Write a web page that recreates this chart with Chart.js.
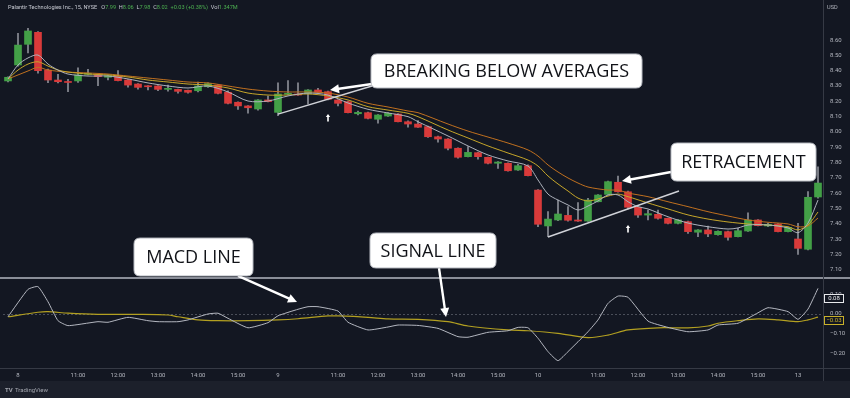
<!DOCTYPE html>
<html><head><meta charset="utf-8">
<script src="https://cdn.jsdelivr.net/npm/chart.js@4.4.0/dist/chart.umd.min.js"></script>
<style>html,body{margin:0;padding:0;background:#131722;overflow:hidden}#wrap{position:relative;width:850px;height:398px}canvas{display:block}</style>
</head><body><div id="wrap"><canvas id="c" width="850" height="398"></canvas></div>
<script>
// ---- candle data (15-min bars) ----
const opens = [
 8.333,8.437,8.572,8.650,8.404,8.339,8.326,8.333,8.376,8.372,
 8.357,8.365,8.339,8.313,8.300,8.300,8.278,8.278,8.272,8.269,
 8.295,8.306,8.259,8.194,8.170,8.150,8.209,8.128,8.246,8.248,
 8.252,8.274,8.263,8.209,8.198,8.119,8.126,8.083,8.104,8.117,
 8.067,8.052,8.035,7.969,7.954,7.894,7.839,7.865,7.835,7.796,
 7.796,7.752,7.780,7.621,7.387,7.426,7.456,7.426,7.419,7.545,
 7.593,7.672,7.610,7.509,7.458,7.463,7.437,7.404,7.415,7.346,
 7.361,7.330,7.350,7.317,7.354,7.426,7.387,7.400,7.350,7.302,
 7.235,7.576];
const highs = [
 8.359,8.644,8.676,8.655,8.411,8.376,8.344,8.419,8.409,8.375,
 8.372,8.400,8.342,8.316,8.303,8.303,8.306,8.280,8.274,8.326,
 8.320,8.310,8.269,8.196,8.173,8.212,8.235,8.321,8.335,8.321,
 8.277,8.285,8.267,8.212,8.202,8.137,8.130,8.114,8.126,8.120,
 8.072,8.074,8.039,7.974,7.957,7.896,7.904,7.869,7.837,7.807,
 7.798,7.789,7.785,7.625,7.480,7.556,7.513,7.539,7.567,7.592,
 7.680,7.713,7.615,7.511,7.491,7.491,7.439,7.429,7.419,7.364,
 7.387,7.355,7.354,7.372,7.473,7.429,7.406,7.403,7.380,7.404,
 7.611,7.772];
const lows = [
 8.326,8.430,8.515,8.383,8.321,8.320,8.263,8.324,8.372,8.302,
 8.339,8.333,8.293,8.280,8.274,8.269,8.267,8.254,8.254,8.261,
 8.290,8.248,8.183,8.148,8.122,8.143,8.196,8.106,8.244,8.238,
 8.183,8.258,8.209,8.170,8.124,8.111,8.085,8.057,8.101,8.065,
 8.031,8.029,7.965,7.933,7.883,7.830,7.837,7.822,7.791,7.763,
 7.745,7.749,7.713,7.382,7.317,7.422,7.419,7.416,7.416,7.543,
 7.589,7.608,7.498,7.443,7.426,7.432,7.400,7.400,7.339,7.317,
 7.317,7.327,7.295,7.315,7.351,7.387,7.383,7.348,7.348,7.202,
 7.230,7.569];
const closes = [
 8.357,8.567,8.659,8.400,8.339,8.328,8.323,8.372,8.381,8.361,
 8.367,8.335,8.306,8.291,8.295,8.278,8.285,8.265,8.259,8.300,
 8.316,8.252,8.187,8.170,8.158,8.209,8.198,8.248,8.252,8.241,
 8.274,8.259,8.213,8.187,8.126,8.128,8.089,8.111,8.122,8.067,
 8.052,8.031,7.969,7.954,7.894,7.835,7.867,7.839,7.796,7.804,
 7.747,7.780,7.715,7.398,7.432,7.465,7.424,7.419,7.556,7.589,
 7.676,7.610,7.509,7.458,7.467,7.437,7.404,7.426,7.350,7.361,
 7.335,7.352,7.313,7.356,7.426,7.389,7.398,7.350,7.378,7.241,
 7.574,7.667];

// ---- moving averages (bar index, value) ----
const fastIdx = [0,1,2,3,4,5,6,8,10,12,14,16,18,20,22,24,26,28,30,32,34,36,38,40,41,44,46,48,50,52,53,54,55,56,57,58,59,60,61,62,63,64,66,68,70,72,73,74,76,78,79,80,81];
const fastVal = [8.346,8.437,8.483,8.502,8.443,8.404,8.378,8.365,8.365,8.346,8.320,8.300,8.287,8.300,8.261,8.202,8.202,8.235,8.254,8.241,8.189,8.148,8.124,8.100,8.067,7.974,7.909,7.850,7.811,7.778,7.687,7.595,7.556,7.524,7.491,7.517,7.550,7.589,7.589,7.545,7.513,7.498,7.447,7.406,7.382,7.367,7.374,7.393,7.393,7.374,7.343,7.406,7.556];
const midIdx = [0,1,2,3,4,5,6,8,10,12,14,16,18,20,22,24,26,28,30,32,34,36,38,40,41,44,46,48,50,52,53,54,55,56,57,58,59,60,61,62,64,66,68,70,72,74,76,78,79,80,81];
const midVal = [8.346,8.404,8.443,8.458,8.430,8.404,8.391,8.378,8.372,8.359,8.339,8.326,8.313,8.306,8.287,8.254,8.241,8.241,8.248,8.235,8.209,8.165,8.143,8.122,8.100,8.013,7.961,7.909,7.863,7.817,7.778,7.713,7.661,7.615,7.569,7.550,7.563,7.582,7.595,7.578,7.537,7.498,7.459,7.432,7.413,7.400,7.393,7.382,7.361,7.393,7.478];
const slowIdx = [0,1,2,3,4,6,8,10,12,14,16,18,20,22,24,26,28,30,32,34,36,38,40,41,44,46,48,50,52,53,54,55,56,57,58,60,61,62,64,66,68,70,72,74,76,78,79,80,81];
const slowVal = [8.346,8.372,8.398,8.422,8.404,8.391,8.385,8.378,8.365,8.352,8.339,8.326,8.320,8.300,8.280,8.267,8.261,8.261,8.254,8.228,8.187,8.163,8.137,8.126,8.052,8.006,7.967,7.928,7.883,7.843,7.785,7.739,7.700,7.667,7.641,7.621,7.621,7.602,7.578,7.545,7.513,7.480,7.452,7.426,7.411,7.400,7.382,7.387,7.439];

// ---- MACD panel ----
const macdIdx = [0,2,3,4,5,6,8,9,10,12,14,15,17,18,20,21,22,24,26,27,29,30,31,33,34,36,38,39,41,43,45,46,48,50,51,52,53,54,55,56,57,58,59,60,61,62,64,66,68,70,71,73,75,76,78,79,80,81];
const macdVal = [-0.014,0.125,0.139,0.062,-0.034,-0.059,-0.046,-0.039,-0.042,-0.017,-0.034,-0.039,-0.039,-0.030,0.000,0.004,-0.022,-0.070,-0.044,-0.009,0.024,0.037,0.037,0.015,-0.042,-0.081,-0.066,-0.056,-0.058,-0.073,-0.115,-0.118,-0.093,-0.085,-0.068,-0.070,-0.123,-0.191,-0.237,-0.191,-0.141,-0.090,-0.030,0.054,0.091,0.085,-0.036,-0.068,-0.090,-0.081,-0.056,-0.047,0.006,0.032,0.012,-0.027,0.025,0.130];
const signalIdx = [0,3,4,6,9,13,16,17,19,21,24,27,29,32,33,36,38,41,44,46,50,52,55,58,60,62,65,68,70,71,73,75,77,79,80,81];
const signalVal = [-0.014,0.009,0.012,0.004,-0.002,-0.002,-0.005,-0.014,-0.030,-0.034,-0.034,-0.030,-0.024,-0.010,-0.010,-0.017,-0.025,-0.027,-0.039,-0.061,-0.081,-0.085,-0.098,-0.120,-0.107,-0.081,-0.070,-0.070,-0.061,-0.047,-0.034,-0.025,-0.030,-0.039,-0.030,-0.016];
const macdLast = 0.08, signalLast = -0.03;

// ---- tick labels ----
const priceTicks = [7.1,7.2,7.3,7.4,7.5,7.6,7.7,7.8,7.9,8.0,8.1,8.2,8.3,8.4,8.5,8.6];
const macdTicks = [0.1,0.0,-0.1,-0.2];
const timeTickIdx = [1,7,11,15,19,23,27,33,37,41,45,49,53,59,63,67,71,75,79];
const timeTickText = ['8','11:00','12:00','13:00','14:00','15:00','9','11:00','12:00','13:00','14:00','15:00','10','11:00','12:00','13:00','14:00','15:00','13'];

const UP = '#43a047', DN = '#d93a3a', GREEN_TXT = '#4caf50';
const labels = opens.map((_, i) => i);
const toPts = (idx, val) => idx.map((x, k) => ({x: x, y: val[k]}));
const bodyColors = opens.map((o, i) => closes[i] >= o ? UP : DN);

const callouts = [
  {text:'BREAKING BELOW AVERAGES', i0:36.3, i1:63.4, top:8.509, bottom:8.287},
  {text:'RETRACEMENT', i0:66.3, i1:80.8, top:7.928, bottom:7.680},
  {text:'MACD LINE', i0:12.6, i1:24.5, top:7.308, bottom:7.061},
  {text:'SIGNAL LINE', i0:36.2, i1:48.8, top:7.341, bottom:7.113}
];
const arrows = [
  {from:[36.4,8.313,'y'], to:[32.2,8.274,'y']},
  {from:[66.3,7.739,'y'], to:[61.4,7.680,'y']},
  {from:[23.0,7.061,'y'], to:[28.9,0.061,'y2']},
  {from:[43.1,7.113,'y'], to:[43.8,-0.015,'y2']}
];
const trendLines = [{from:[27,8.117], to:[36.4,8.300]}, {from:[54,7.315], to:[67.1,7.615]}];
const upMarks = [[32,8.091],[62,7.367]];
const titleParts = [['Palantir Technologies Inc., 15, NYSE','#c9ccd4'],['   O','#c9ccd4'],['7.99',GREEN_TXT],['  H','#c9ccd4'],['8.06',GREEN_TXT],['  L','#c9ccd4'],['7.98',GREEN_TXT],['  C','#c9ccd4'],['8.02',GREEN_TXT],['  +0.03 (+0.38%)',GREEN_TXT],['  Vol','#c9ccd4'],['1.347M',GREEN_TXT]];

function rrect(c,x,y,w,h,r){c.beginPath();c.moveTo(x+r,y);c.lineTo(x+w-r,y);c.quadraticCurveTo(x+w,y,x+w,y+r);c.lineTo(x+w,y+h-r);c.quadraticCurveTo(x+w,y+h,x+w-r,y+h);c.lineTo(x+r,y+h);c.quadraticCurveTo(x,y+h,x,y+h-r);c.lineTo(x,y+r);c.quadraticCurveTo(x,y,x+r,y);c.closePath();}
function drawArrow(c,x1,y1,x2,y2){
  const a=Math.atan2(y2-y1,x2-x1), h=9, w=4.5;
  c.strokeStyle='#ffffff'; c.fillStyle='#ffffff'; c.lineWidth=2.4;
  c.beginPath(); c.moveTo(x1,y1); c.lineTo(x2-Math.cos(a)*h*0.8,y2-Math.sin(a)*h*0.8); c.stroke();
  c.beginPath(); c.moveTo(x2,y2);
  c.lineTo(x2-h*Math.cos(a)+w*Math.sin(a), y2-h*Math.sin(a)-w*Math.cos(a));
  c.lineTo(x2-h*Math.cos(a)-w*Math.sin(a), y2-h*Math.sin(a)+w*Math.cos(a));
  c.closePath(); c.fill();
}

const overlay = {
  id:'overlay',
  beforeDraw(chart){
    const c=chart.ctx; c.save();
    c.fillStyle='#131722'; c.fillRect(0,0,850,398);
    c.fillStyle='#1c202b'; c.fillRect(0,381,850,17);
    c.restore();
  },
  beforeDatasetsDraw(chart){
    const c=chart.ctx, ca=chart.chartArea, y2=chart.scales.y2; c.save();
    const z=Math.round(y2.getPixelForValue(0))+0.5;
    c.strokeStyle='#4a4e59'; c.lineWidth=1; c.setLineDash([2,2]);
    c.beginPath(); c.moveTo(ca.left,z); c.lineTo(ca.right,z); c.stroke();
    c.restore();
  },
  afterDraw(chart){
    const c=chart.ctx, xs=chart.scales.x, ys=chart.scales.y, y2=chart.scales.y2, ca=chart.chartArea;
    const sc={y:ys,y2:y2};
    c.save();
    // panel separator & axis lines
    const sepY = Math.round(ys.bottom);
    c.fillStyle='#8a8e98'; c.fillRect(0,sepY-1,850,2);
    c.fillStyle='#363a45';
    c.fillRect(Math.round(ca.right),0,1,381);
    c.fillRect(0,Math.round(ca.bottom),850,1);
    // title
    c.font='5.6px Roboto'; c.textBaseline='middle'; c.textAlign='left';
    let tx=8;
    titleParts.forEach(p=>{c.fillStyle=p[1]; c.fillText(p[0],tx,8); tx+=c.measureText(p[0]).width;});
    c.fillStyle='#b2b5be'; c.font='5.6px Roboto'; c.fillText('USD',827,8);
    // TradingView logo
    c.fillStyle='#a3a6af'; c.font='bold 6px Roboto'; c.fillText('TV',5,390);
    c.font='6px Roboto'; c.fillText('TradingView',15,390);
    // trend lines
    c.strokeStyle='#d0d2d8'; c.lineWidth=1.4;
    trendLines.forEach(t=>{c.beginPath(); c.moveTo(xs.getPixelForValue(t.from[0]),ys.getPixelForValue(t.from[1])); c.lineTo(xs.getPixelForValue(t.to[0]),ys.getPixelForValue(t.to[1])); c.stroke();});
    // small up markers
    c.fillStyle='#ffffff';
    upMarks.forEach(m=>{const px=xs.getPixelForValue(m[0]), py=ys.getPixelForValue(m[1]);
      c.beginPath(); c.moveTo(px,py-4); c.lineTo(px-2.2,py-1); c.lineTo(px+2.2,py-1); c.closePath(); c.fill();
      c.fillRect(px-0.8,py-1.5,1.6,5);});
    // arrows
    arrows.forEach(a=>drawArrow(c, xs.getPixelForValue(a.from[0]), sc[a.from[2]].getPixelForValue(a.from[1]), xs.getPixelForValue(a.to[0]), sc[a.to[2]].getPixelForValue(a.to[1])));
    // callout boxes
    callouts.forEach(b=>{
      const x0=xs.getPixelForValue(b.i0), x1=xs.getPixelForValue(b.i1), t=ys.getPixelForValue(b.top), bt=ys.getPixelForValue(b.bottom);
      rrect(c,x0,t,x1-x0,bt-t,6); c.fillStyle='#ffffff'; c.fill(); c.strokeStyle='#b8bbc2'; c.lineWidth=1; c.stroke();
      c.fillStyle='#111318'; c.font='18px "Open Sans"'; c.textAlign='center'; c.textBaseline='middle';
      c.fillText(b.text,(x0+x1)/2,(t+bt)/2+1);
    });
    // MACD value boxes
    c.textAlign='center'; c.font='6px Roboto';
    const vb=(v,col)=>{const py=y2.getPixelForValue(v); c.fillStyle='#131722'; c.fillRect(824,py-4,20,8); c.strokeStyle=col; c.lineWidth=1; c.strokeRect(824.5,Math.round(py-4)+0.5,19,8); c.fillStyle=col; c.fillText((v<0?'\u2212':'')+Math.abs(v).toFixed(2),834,py+0.5);};
    vb(macdLast,'#e8e9ec'); vb(signalLast,'#c8b02a');
    c.restore();
  }
};

new Chart(document.getElementById('c').getContext('2d'), {
  type:'bar',
  data:{ labels: labels, datasets:[
    {type:'line', label:'EMA fast', data:toPts(fastIdx,fastVal), yAxisID:'y', borderColor:'#aeb2bc', borderWidth:1, pointRadius:0, tension:0.3, order:0},
    {type:'line', label:'EMA mid', data:toPts(midIdx,midVal), yAxisID:'y', borderColor:'#c6a62a', borderWidth:1, pointRadius:0, tension:0.3, order:0},
    {type:'line', label:'EMA slow', data:toPts(slowIdx,slowVal), yAxisID:'y', borderColor:'#c0701f', borderWidth:1, pointRadius:0, tension:0.3, order:0},
    {label:'body', data:opens.map((o,i)=>[o,closes[i]]), yAxisID:'y', backgroundColor:bodyColors, borderWidth:0, barThickness:7, minBarLength:1, grouped:false, order:2},
    {label:'wick', data:lows.map((l,i)=>[l,highs[i]]), yAxisID:'y', backgroundColor:'#8b8e97', borderWidth:0, barThickness:1, grouped:false, order:3},
    {type:'line', label:'MACD', data:toPts(macdIdx,macdVal), yAxisID:'y2', borderColor:'#b4b7c0', borderWidth:1, pointRadius:0, tension:0.15, order:0},
    {type:'line', label:'Signal', data:toPts(signalIdx,signalVal), yAxisID:'y2', borderColor:'#b3a021', borderWidth:1.2, pointRadius:0, tension:0.3, order:0}
  ]},
  options:{
    responsive:false, animation:false, events:[],
    layout:{padding:{left:3,right:0,top:0,bottom:17}},
    plugins:{legend:{display:false}, tooltip:{enabled:false}},
    scales:{
      x:{type:'category', offset:true, grid:{display:false,drawTicks:false}, border:{display:false},
         ticks:{autoSkip:false, maxRotation:0, minRotation:0, padding:4, color:'#b2b5be', font:{size:6,family:'Roboto'},
                callback:(v,i)=>{const k=timeTickIdx.indexOf(i); return k<0?'':timeTickText[k];}},
         afterFit:s=>{s.height=13; s.paddingLeft=0; s.paddingRight=0;}},
      y:{position:'right', stack:'p', stackWeight:278, min:7.0475, max:8.861,
         grid:{display:false,drawTicks:false}, border:{display:false},
         ticks:{autoSkip:false, padding:7, color:'#b2b5be', font:{size:6,family:'Roboto'}, callback:v=>v.toFixed(2)},
         afterBuildTicks:s=>{s.ticks=priceTicks.map(v=>({value:v}));},
         afterFit:s=>{s.width=27; s.paddingTop=0; s.paddingBottom=0;}},
      y2:{position:'right', stack:'p', stackWeight:90, min:-0.2741, max:0.1827,
         grid:{display:false,drawTicks:false}, border:{display:false},
         ticks:{autoSkip:false, padding:7, color:'#b2b5be', font:{size:6,family:'Roboto'}, callback:v=>(v<-1e-9?'\u2212':'')+Math.abs(v).toFixed(2)},
         afterBuildTicks:s=>{s.ticks=macdTicks.map(v=>({value:v}));},
         afterFit:s=>{s.width=27; s.paddingTop=0; s.paddingBottom=0;}}
    }
  },
  plugins:[overlay]
});
</script></body></html>
